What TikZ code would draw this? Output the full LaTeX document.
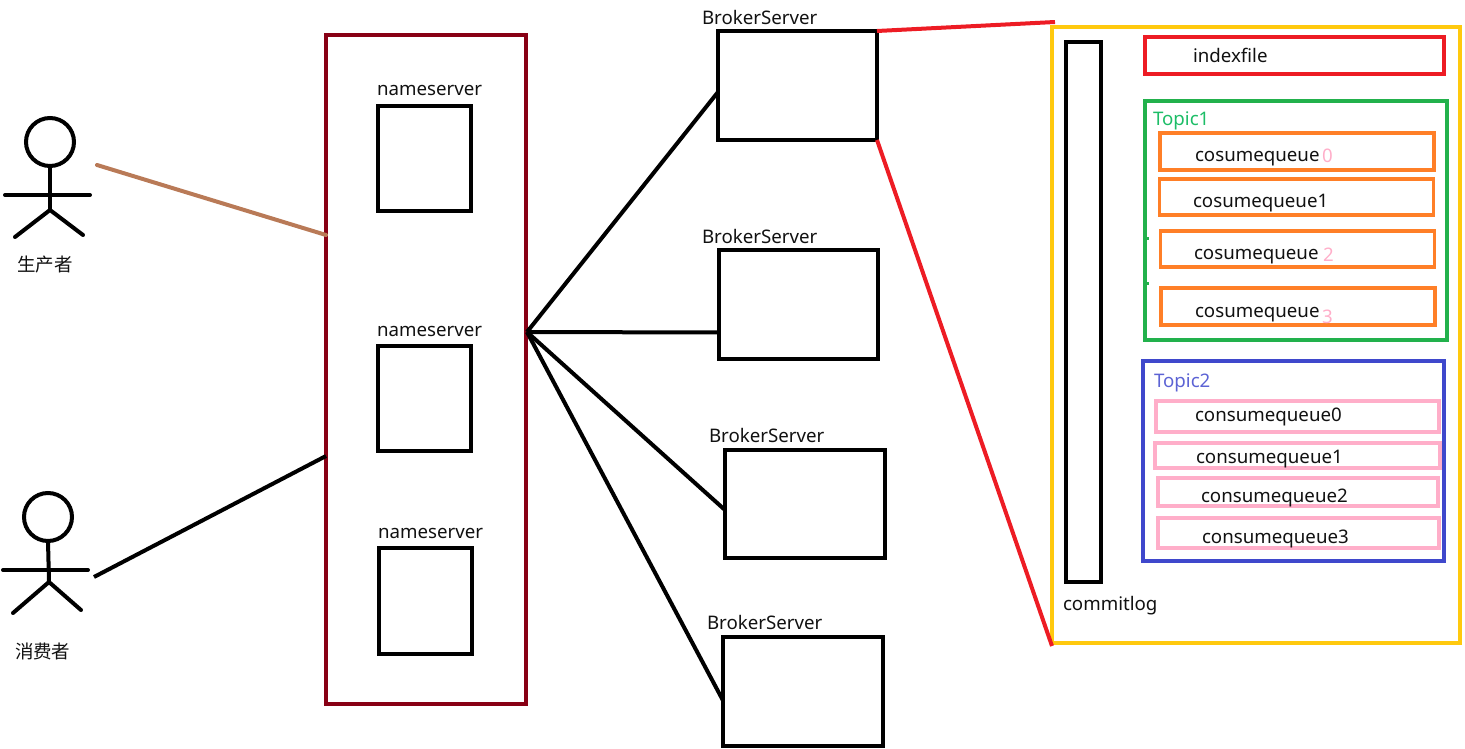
\documentclass[tikz,border=0pt]{standalone}
\usepackage{fontspec}
\setmainfont{Noto Sans}
\newfontfamily\cjkfont{Noto Sans CJK SC}
\definecolor{darkred}{HTML}{880015}
\definecolor{rred}{HTML}{ED1C24}
\definecolor{ryellow}{HTML}{FFC90E}
\definecolor{rgreen}{HTML}{22B14C}
\definecolor{rorange}{HTML}{FF7F27}
\definecolor{rindigo}{HTML}{3F48CC}
\definecolor{rpink}{HTML}{FFAEC9}
\definecolor{rbrown}{HTML}{B97A57}
\definecolor{inkcolor}{HTML}{111111}
\tikzset{
  pane/.style={draw, line width=4pt, inner sep=0pt, outer sep=0pt, anchor=north west, sharp corners, line join=miter},
  label/.style={anchor=base west, inner sep=0pt, outer sep=0pt, font=\fontsize{18.7}{20}\selectfont, text=inkcolor},
  cjklabel/.style={anchor=base west, inner sep=0pt, outer sep=0pt, font=\cjkfont\fontsize{18.5}{20}\selectfont, text=inkcolor},
  link/.style={line width=4pt, line cap=round},
  limb/.style={line width=4pt, line cap=round},
  head/.style={draw, circle, line width=4pt, inner sep=0pt, outer sep=0pt, minimum size=48pt}
}
\begin{document}
\begin{tikzpicture}[x=1pt,y=-1pt]
\useasboundingbox (0,0) rectangle (1465,749);
% cluster and nameservers
\node[pane, draw=darkred, minimum width=200pt, minimum height=669pt] (cluster) at (326,35) {};
\node[pane, minimum width=93pt, minimum height=105pt] (ns1) at (378,106) {};
\node[pane, minimum width=93pt, minimum height=105pt] (ns2) at (378,346) {};
\node[pane, minimum width=93pt, minimum height=106pt] (ns3) at (379,548) {};
\node[label] (ns1t) at (377,96) {nameserver};
\node[label] (ns2t) at (377,336) {nameserver};
\node[label] (ns3t) at (378,538.5) {nameserver};
% brokers
\node[pane, minimum width=159pt, minimum height=109pt] (b1) at (718,31) {};
\node[pane, minimum width=159pt, minimum height=109pt] (b2) at (719,250) {};
\node[pane, minimum width=160pt, minimum height=108pt] (b3) at (725,450) {};
\node[pane, minimum width=160pt, minimum height=109pt] (b4) at (723,637) {};
\node[label] (b1t) at (702,24.5) {BrokerServer};
\node[label] (b2t) at (702,243) {BrokerServer};
\node[label] (b3t) at (709,442) {BrokerServer};
\node[label] (b4t) at (707,629) {BrokerServer};
% detail panel
\node[pane, draw=ryellow, minimum width=408pt, minimum height=616pt] (detail) at (1052,27) {};
\node[pane, minimum width=35pt, minimum height=540pt] (commit) at (1066,42) {};
\node[label] (committ) at (1063,610) {commitlog};
\node[pane, draw=rred, minimum width=299pt, minimum height=37pt] (index) at (1145,37) {};
\node[label] (indext) at (1193,62.5) {indexfile};
% Topic1
\node[pane, draw=rgreen, minimum width=302pt, minimum height=239pt] (t1) at (1145,101) {};
\fill[rgreen] (1445.5,237) rectangle (1449,280);
\fill[rgreen] (1147,237) rectangle (1149,240);
\fill[rgreen] (1147,282) rectangle (1149,285);
\node[label, text=rgreen!85!cyan] (t1t) at (1153,125.5) {Topic1};
\node[pane, draw=rorange, line width=4.5pt, minimum width=274pt, minimum height=37pt] (q0) at (1160,133) {};
\node[pane, draw=rorange, line width=3.5pt, minimum width=274pt, minimum height=36pt] (q1) at (1159.5,179) {};
\node[pane, draw=rorange, line width=3.5pt, minimum width=274pt, minimum height=36pt] (q2) at (1160.5,231) {};
\node[pane, draw=rorange, line width=3.5pt, minimum width=274pt, minimum height=37pt] (q3) at (1161,288) {};
\node[label] (q0t) at (1195,162) {cosumequeue};
\node[label] (q1t) at (1193,207.5) {cosumequeue1};
\node[label] (q2t) at (1194,259) {cosumequeue};
\node[label] (q3t) at (1195,317) {cosumequeue};
\node[label, text=rpink] (d0) at (1322,163) {0};
\node[label, text=rpink] (d2) at (1323,261) {2};
\node[label, text=rpink] (d3) at (1322,323) {3};
% Topic2
\node[pane, draw=rindigo, minimum width=301pt, minimum height=200pt] (t2) at (1143,361) {};
\node[label, text=rindigo!85!white] (t2t) at (1154,387) {Topic2};
\node[pane, draw=rpink, minimum width=283pt, minimum height=31pt] (p0) at (1156,401) {};
\node[pane, draw=rpink, minimum width=285pt, minimum height=25pt] (p1) at (1155,443) {};
\node[pane, draw=rpink, minimum width=280pt, minimum height=28pt] (p2) at (1158,478) {};
\node[pane, draw=rpink, minimum width=281pt, minimum height=30pt] (p3) at (1158,518) {};
\node[label] (p0t) at (1195,421) {consumequeue0};
\node[label] (p1t) at (1196,463) {consumequeue1};
\node[label] (p2t) at (1201,502) {consumequeue2};
\node[label] (p3t) at (1202,543) {consumequeue3};
% producer actor
\node[head] (h1) at (50,142) {};
\coordinate (hip1) at (50,210);
\coordinate (arml1) at (5,195);
\coordinate (armr1) at (90,195);
\coordinate (legl1) at (15,237);
\coordinate (legr1) at (83,235);
\draw[limb] (h1.south) -- (hip1);
\draw[limb] (arml1) -- (armr1);
\draw[limb] (legl1) -- (hip1) -- (legr1);
\node[cjklabel] (prod) at (17,271) {生产者};
% consumer actor
\node[head] (h2) at (48,517) {};
\coordinate (hip2) at (49,582);
\coordinate (arml2) at (3,570);
\coordinate (armr2) at (88,570);
\coordinate (legl2) at (13,613);
\coordinate (legr2) at (81,610);
\draw[limb] (h2.south) -- (hip2);
\draw[limb] (arml2) -- (armr2);
\draw[limb] (legl2) -- (hip2) -- (legr2);
\node[cjklabel] (cons) at (15,658) {消费者};
% connectors
\coordinate (pfree) at (97,165);
\coordinate (cfree) at (94,577);
\coordinate (hub) at (527,332);
\draw[link, draw=rbrown] (pfree) -- (cluster.west |- 0,235);
\draw[link, line cap=butt] (cfree) -- (cluster.west |- 0,456);
\draw[link, line cap=butt] (hub) -- ([yshift=-6.5pt]b1.west);
\draw[link, line cap=butt] (hub) -- ([yshift=-28pt]b2.west);
\draw[link, line cap=butt] (hub) -- ([yshift=-6pt]b3.west);
\draw[link, line cap=butt] (hub) -- ([yshift=-9pt]b4.west);
\draw[link, draw=rred, line cap=butt] (b1.north east) -- ([xshift=3pt,yshift=5pt]detail.north west);
\draw[link, draw=rred, line cap=butt] (b1.south east) -- ([yshift=-3pt]detail.south west);
\end{tikzpicture}
\end{document}
